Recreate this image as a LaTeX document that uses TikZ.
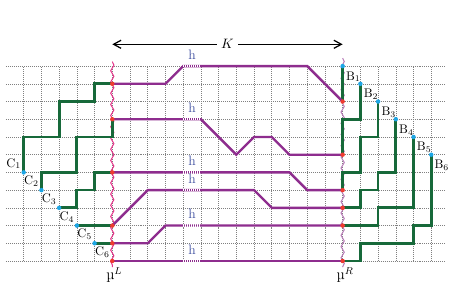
\documentclass[tikz,border=0pt]{standalone}
\usepackage{fontspec}
\usetikzlibrary{positioning,arrows.meta,calc,decorations.pathmorphing}
\definecolor{accent1}{HTML}{17693A}
\definecolor{accent2}{HTML}{8E2D8E}
\definecolor{accent3}{HTML}{EE3B30}
\definecolor{accent4}{HTML}{1DA6E6}
\definecolor{accent5}{HTML}{E6338A}
\definecolor{accent6}{HTML}{B77BB7}
\definecolor{accent7}{HTML}{4050A0}

\begin{document}
\begin{tikzpicture}[x=0.5cm,y=0.5cm,font=\fontsize{10}{12}\selectfont,
  gridline/.style={black!50, line width=0.45pt, dash pattern=on 0.5pt off 1.1pt},
  greenpath/.style={draw=accent1, line width=2.2pt},
  hpath/.style={draw=accent2, line width=1.9pt},
  hbreak/.style={draw=white, line width=2pt, dash pattern=on 0.6pt off 1pt},
  hlabel/.style={text=accent7, font=\fontsize{11}{13}\selectfont, anchor=base, inner sep=0pt},
  wavy/.style={line width=0.8pt, decorate, decoration={snake, amplitude=1.3pt, segment length=9pt}},
  rdot/.style={circle, fill=accent3, inner sep=0pt, minimum size=3.6pt},
  bdot/.style={circle, fill=accent4, inner sep=0pt, minimum size=3.6pt},
  lbl/.style={inner sep=0pt},
  mulbl/.style={font=\fontsize{12}{14}\selectfont, anchor=base west, inner sep=0pt}]
\useasboundingbox (-6.338,-2.314) rectangle (20.30,14.73);
\foreach \y in {0,...,11} \draw[gridline] (-6,\y) -- (18.85,\y);
\foreach \x in {-5,...,18} \draw[gridline] (\x,0) -- (\x,11);
\draw[wavy, accent5] (0,11.25) -- (0,-0.35);
\draw[wavy, accent6] (13,11.45) -- (13,-0.35);

\coordinate (kl) at (0,12.23);
\coordinate (kr) at (13,12.23);
\node[inner sep=3.5pt, font=\fontsize{11}{13}\selectfont] (k) at (6.5,12.23) {$K$};
\draw[line width=1pt, -{Straight Barb[length=6pt,width=6.5pt]}] (k) -- (kl);
\draw[line width=1pt, -{Straight Barb[length=6pt,width=6.5pt]}] (k) -- (kr);

\coordinate (l1) at (0,10);
\coordinate (l2) at (0,8);
\coordinate (l3) at (0,5);
\coordinate (l4) at (0,2);
\coordinate (l5) at (0,1);
\coordinate (l6) at (0,0);
\coordinate (r1) at (13,9);
\coordinate (r2) at (13,6);
\coordinate (r3) at (13,4);
\coordinate (r4) at (13,3);
\coordinate (r5) at (13,2);
\coordinate (r6) at (13,0);
\coordinate (c1) at (-5,5);
\coordinate (c2) at (-4,4);
\coordinate (c3) at (-3,3);
\coordinate (c4) at (-2,2);
\coordinate (c5) at (-1,1);
\coordinate (c6) at (l6);
\coordinate (b1) at (13,11);
\coordinate (b2) at (14,10);
\coordinate (b3) at (15,9);
\coordinate (b4) at (16,8);
\coordinate (b5) at (17,7);
\coordinate (b6) at (18,6);

\draw[greenpath] (c1) |- (-3,7) |- (-1,9) |- (l1);
\draw[greenpath] (c2) |- (-2,5) |- (0,7) -- (l2);
\draw[greenpath] (c3) -| (-2,4) -| (-1,5) -- (l3);
\draw[greenpath] (c4) -- (l4);
\draw[greenpath] (c5) -- (l5);
\draw[greenpath] (r1) -- (b1);
\draw[greenpath] (r2) |- (14,8) -- (b2);
\draw[greenpath] (r3) |- (14,5) |- (15,7) -- (b3);
\draw[greenpath] (r4) -| (14,4) -| (15,5) -| (b4);
\draw[greenpath] (r5) -| (15,3) -| (b5);
\draw[greenpath] (r6) -| (14,1) -| (17,2) -| (b6);

\draw[hpath] (l1) -- (3,10) -- (4,11) -- (11,11) -- (r1);
\draw[hpath] (l2) -- (5,8) -- (7,6) -- (8,7) -- (9,7) -- (10,6) -- (r2);
\draw[hpath] (l3) -- (10,5) -- (11,4) -- (r3);
\draw[hpath] (l4) -- (2,4) -- (8,4) -- (9,3) -- (r4);
\draw[hpath] (l5) -- (2,1) -- (3,2) -- (r5);
\draw[hpath] (l6) -- (r6);
\foreach \y in {11,8,5,4,2,0} {
  \draw[hbreak] (4,\y) -- (5,\y);
  \node[hlabel] (h\y) at (4.5,\y+0.38) {h};
}

\foreach \p in {c1,c2,c3,c4,c5,b1,b2,b3,b4,b5,b6} \node[bdot] (\p dot) at (\p) {};
\foreach \p in {l1,l2,l3,l4,l5,l6,r1,r2,r3,r4,r5,r6} \node[rdot] (\p dot) at (\p) {};
\foreach \i in {1,...,6} {
  \node[lbl] (cl\i) at ($(c\i)+(-0.56,0.5)$) {C$_\i$};
  \node[lbl] (bl\i) at ($(b\i)+(0.6,-0.6)$) {B$_\i$};
}
\node[mulbl] (mul) at (-0.35,-1.05) {µ$^L$};
\node[mulbl] (mur) at (12.65,-1.05) {µ$^R$};
\end{tikzpicture}
\end{document}
